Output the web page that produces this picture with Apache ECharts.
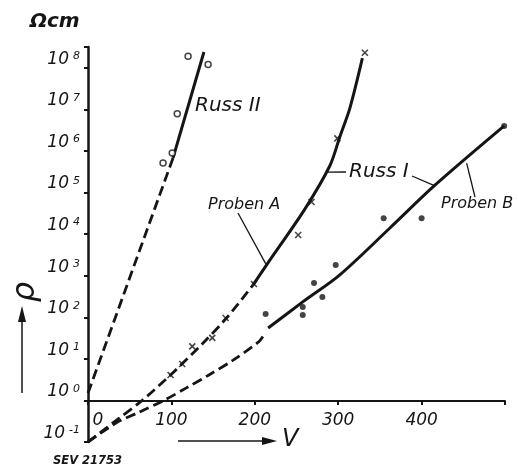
<!DOCTYPE html>
<html><head><meta charset="utf-8">
<style>html,body{margin:0;padding:0;background:#fff}#c{width:518px;height:468px}</style>
<script src="https://cdn.jsdelivr.net/npm/echarts@6/dist/echarts.min.js"></script>
</head><body><div id="c"></div>
<script>
// ---- data (V, ρ in Ωcm) ----
const xTicks = [0, 100, 200, 300, 400];
const yExponents = [-1, 0, 1, 2, 3, 4, 5, 6, 7, 8];

const russ2Points = [[90, 5.1e5], [101, 8.9e5], [107, 7.8e6], [120, 1.9e8], [144, 1.2e8]];
const russ2Solid  = [[102, 6.8e5], [139, 2.4e8]];
const russ2Dashed = [[0, 1.5], [102, 6.8e5]];

const probenAPoints = [[99, 4.1], [113, 7.5], [125, 20], [149, 32], [165, 96], [199, 630], [252, 9.5e3], [268, 5.9e4], [299, 2.0e6], [332, 2.3e8]];
const probenASolid  = [[198, 600], [214, 1.8e3], [260, 4.0e4], [290, 4.4e5], [302, 2.2e6], [314, 1.07e7], [329, 1.7e8]];
const probenADashed = [[0, 0.1], [37, 0.37], [65, 1], [99, 4.1], [138, 24], [166, 95], [198, 600]];

const probenBPoints = [[213, 120], [257.5, 177], [257.5, 113], [271, 670], [281, 309], [297, 1800], [354.5, 2.4e4], [400, 2.4e4], [499, 4.0e6]];
const probenBSolid  = [[216, 55], [257.5, 234], [302, 1050], [362, 1.4e4], [416, 1.5e5], [499, 4.0e6]];
const probenBDashed = [[0, 0.1], [34, 0.29], [61, 0.52], [91, 1.0], [118, 2.0], [145, 4.1], [174, 9.3], [205, 26], [211, 38]];

// leader-line anchors on the curves (data coords)
const leaderProbenA = [214, 1.8e3];
const leaderRussIa  = [287, 3.1e5];
const leaderRussIb  = [416, 1.45e5];
const leaderProbenB = [454, 5.1e5];

const INK = '#151515';
const FONT = 'DejaVu Sans';

const chart = echarts.init(document.getElementById('c'), null, {renderer: 'canvas'});

function lineSeries(data, dashed, smooth, w) {
  return {
    type: 'line', data: data, symbol: 'none', smooth: smooth ? 0.3 : false,
    lineStyle: {color: INK, width: w || 3, type: dashed ? [10, 5] : 'solid', cap: 'butt'},
    silent: true, z: 2
  };
}

const option = {
  animation: false,
  backgroundColor: '#fff',
  grid: {left: 88, right: 13, top: 47, bottom: 26, containLabel: false},
  xAxis: {
    type: 'value', min: 0, max: 500, interval: 100, offset: -41,
    axisLine: {onZero: false, lineStyle: {color: INK, width: 2}},
    axisTick: {show: true, length: 4, lineStyle: {color: INK, width: 2}},
    splitLine: {show: false},
    axisLabel: {
      margin: 11, color: INK, fontFamily: FONT, fontSize: 17, fontStyle: 'italic',
      formatter: v => xTicks.indexOf(v) < 0 ? '' : (v === 0 ? '{z|0}' : String(v)),
      rich: {z: {fontFamily: FONT, fontSize: 17, fontStyle: 'italic', color: INK, padding: [0, 0, 0, 20]}}
    }
  },
  yAxis: {
    type: 'log', logBase: 10, min: 0.1, max: Math.pow(10, 8.5),
    axisLine: {onZero: false, lineStyle: {color: INK, width: 2.5}},
    axisTick: {show: true, length: 4, lineStyle: {color: INK, width: 2}},
    splitLine: {show: false},
    minorTick: {show: false},
    axisLabel: {
      margin: 8, verticalAlign: 'bottom',
      formatter: v => {
        const e = Math.round(Math.log10(v));
        if (Math.abs(Math.log10(v) - e) > 1e-6 || yExponents.indexOf(e) < 0) return '';
        return '{b|10}{s|' + e + '}';
      },
      rich: {
        b: {fontFamily: FONT, fontSize: 17, fontStyle: 'italic', color: INK, lineHeight: 12, verticalAlign: 'bottom'},
        s: {fontFamily: FONT, fontSize: 11, fontStyle: 'italic', color: INK, lineHeight: 12, verticalAlign: 'bottom', padding: [0, 0, 6, 4]}
      }
    }
  },
  series: [
    lineSeries(russ2Solid, false, false, 3),
    lineSeries(russ2Dashed, true, false, 2.8),
    lineSeries(probenASolid, false, true, 3),
    lineSeries(probenADashed, true, true, 2.8),
    lineSeries(probenBSolid, false, true, 3),
    lineSeries(probenBDashed, true, true, 2.8),
    {type: 'scatter', data: russ2Points, symbol: 'circle', symbolSize: 6, z: 5,
     itemStyle: {color: '#fff', borderColor: INK, borderWidth: 1.5}},
    {type: 'scatter', data: probenAPoints, symbol: 'path://M0,0L10,10M10,0L0,10', symbolSize: 6, z: 5,
     itemStyle: {color: 'rgba(0,0,0,0)', borderColor: INK, borderWidth: 1.6}},
    {type: 'scatter', data: probenBPoints, symbol: 'circle', symbolSize: 6, z: 5,
     itemStyle: {color: INK}}
  ]
};
chart.setOption(option);

const P = d => chart.convertToPixel({gridIndex: 0}, d);
function seg(a, b, w) {
  return {type: 'line', shape: {x1: a[0], y1: a[1], x2: b[0], y2: b[1]}, style: {stroke: INK, lineWidth: w || 1.3}, z: 10};
}
function txt(x, y, s, size, opts) {
  return {type: 'text', x: x, y: y, z: 10, rotation: (opts && opts.rot) || 0,
    style: Object.assign({text: s, fill: INK, fontFamily: FONT, fontSize: size, fontStyle: 'italic',
      textAlign: 'left', textVerticalAlign: 'middle'}, opts && opts.style)};
}

const gA = P(leaderProbenA), gR1 = P(leaderRussIa), gR2 = P(leaderRussIb), gB = P(leaderProbenB);
chart.setOption({
  graphic: [
    txt(30, 22, 'Ωcm', 20, {style: {fontWeight: 'bold'}}),
    txt(195, 106, 'Russ II', 20),
    txt(349, 172, 'Russ I', 20),
    txt(208, 205, 'Proben A', 16),
    txt(441, 204, 'Proben B', 16),
    txt(53, 461, 'SEV 21753', 11.5, {style: {fontWeight: 'bold'}}),
    txt(26, 292, 'ρ', 32, {rot: Math.PI / 2, style: {textAlign: 'center'}}),
    seg([238, 213], gA),
    seg([346, 172], gR1),
    seg([412, 176], gR2),
    seg([475, 197], gB),
    // axis direction arrows
    seg([178, 441], [264, 441], 1.5),
    {type: 'polygon', shape: {points: [[262, 437], [277, 441], [262, 445]]}, style: {fill: INK}, z: 10},
    seg([22, 393], [22, 320], 1.5),
    {type: 'polygon', shape: {points: [[18, 322], [22, 306], [26, 322]]}, style: {fill: INK}, z: 10},
    txt(282, 440, 'V', 24, {})
  ]
});
</script></body></html>
